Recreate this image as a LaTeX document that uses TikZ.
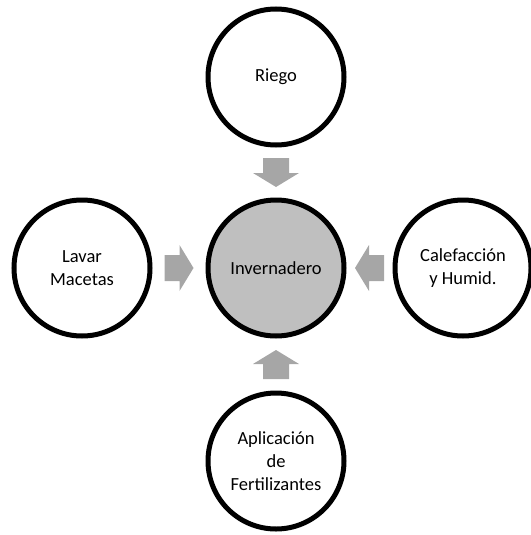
\documentclass[tikz,border=0pt]{standalone}
\usepackage{fontspec}
\setmainfont{Carlito}
\usetikzlibrary{calc}
\definecolor{arrowgray}{RGB}{166,166,166}
\definecolor{hubgray}{RGB}{191,191,191}
\tikzset{
  x=1pt,y=1pt,
  bubble/.style={circle,draw=black,line width=5pt,fill=white,minimum size=136pt,inner sep=0pt,
    align=center,font=\fontsize{18.5}{23}\selectfont},
  hub/.style={bubble,fill=hubgray},
  blockarrow/.style={fill=arrowgray,draw=none}
}
\newcommand\blockarr[2]{%
  \begin{scope}[shift={#1},rotate=#2]
    \fill[blockarrow] (-14.5,-13) -- (0.5,-13) -- (0.5,-23) -- (14.5,0) -- (0.5,23) -- (0.5,13) -- (-14.5,13) -- cycle;
  \end{scope}}
\begin{document}
\begin{tikzpicture}
\useasboundingbox (0,0) rectangle (530,-535);
\node[hub] (c) at (276,-268) {Invernadero};
\node[bubble] (t) at (276,-77) {Riego};
\node[bubble] (l) at (82,-268) {Lavar\\Macetas};
\node[bubble] (r) at (463,-268) {Calefacción\\y Humid.};
\node[bubble] (b) at (276,-461) {Aplicación\\de\\Fertilizantes};
\coordinate (mt) at ($(t)!0.5!(c)$);
\coordinate (ml) at ($(l)!0.5!(c)$);
\coordinate (mr) at ($(r)!0.5!(c)$);
\coordinate (mb) at ($(b)!0.5!(c)$);
\blockarr{(mt)}{-90}
\blockarr{(ml)}{0}
\blockarr{(mr)}{180}
\blockarr{(mb)}{90}
\end{tikzpicture}
\end{document}
